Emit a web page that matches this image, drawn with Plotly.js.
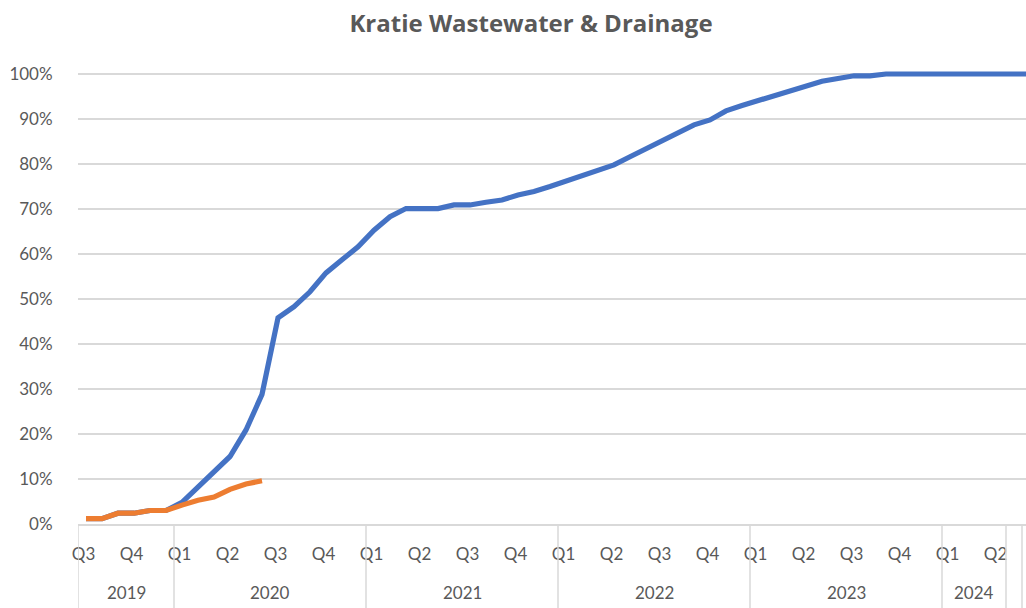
<!DOCTYPE html>
<html>
<head>
<meta charset="utf-8">
<script src="https://cdn.plot.ly/plotly-3.0.1.min.js"></script>
<style>html,body{margin:0;padding:0;background:#fff;}#chart{width:1026px;height:608px;}</style>
</head>
<body>
<div id="chart"></div>
<script>
// Year groups (number of monthly categories in each group)
const yearLabels = ['2019', '2020', '2021', '2022', '2023', '2024', '', ''];
const monthsInYear = [6, 12, 12, 12, 12, 4, 1, 1];
// Quarter labels, one every 3 monthly categories starting at the first category
const quarterLabels = ['Q3', 'Q4',
  'Q1', 'Q2', 'Q3', 'Q4',
  'Q1', 'Q2', 'Q3', 'Q4',
  'Q1', 'Q2', 'Q3', 'Q4',
  'Q1', 'Q2', 'Q3', 'Q4',
  'Q1', 'Q2'];
// Series values (percent), one per monthly category
const seriesBlue = [1.2, 1.2, 2.4, 2.4, 3.0, 3.0, 4.8, 8.2, 11.5, 15.0, 20.9, 28.8,
  45.8, 48.3, 51.6, 55.8, 58.7, 61.6, 65.3, 68.3, 70.1, 70.1, 70.1, 70.9,
  70.9, 71.5, 72.0, 73.1, 73.9, 75.0, 76.2, 77.4, 78.6, 79.8, 81.6, 83.4,
  85.1, 86.9, 88.7, 89.8, 91.8, 93.0, 94.1, 95.2, 96.3, 97.2, 98.4, 99.0,
  99.6, 99.6, 100, 100, 100, 100, 100, 100, 100, 100, 100, 100];
const seriesOrange = [1.2, 1.2, 2.4, 2.4, 3.0, 3.0, 4.2, 5.3, 6.0, 7.7, 8.9, 9.6];

const gridColor = '#d9d9d9';
const textColor = '#595959';
const fontFam = 'Lato, Carlito, "Liberation Sans", sans-serif';
const titleFam = '"Open Sans", Lato, sans-serif';

const xIdx = (arr) => arr.map((_, i) => i);

const traces = [
  {x: xIdx(seriesBlue), y: seriesBlue.map(v => v / 100), type: 'scatter', mode: 'lines',
   line: {color: '#4472C4', width: 5.2}, name: 'Planned', hoverinfo: 'skip'},
  {x: xIdx(seriesOrange), y: seriesOrange.map(v => v / 100), type: 'scatter', mode: 'lines',
   line: {color: '#ED7D31', width: 5.2}, name: 'Actual', hoverinfo: 'skip'}
];

const plotH = 459; // 608 - top - bottom margins
const bottomPx = 84;

// Group boundaries and year label positions
const shapes = [];
const annotations = [];
let start = -0.5;
shapes.push({type: 'line', xref: 'x', yref: 'paper', x0: start, x1: start, y0: 0, y1: -bottomPx / plotH,
  line: {color: gridColor, width: 1.5}});
yearLabels.forEach((lab, k) => {
  const end = start + monthsInYear[k];
  shapes.push({type: 'line', xref: 'x', yref: 'paper', x0: end, x1: end, y0: 0, y1: -bottomPx / plotH,
    line: {color: gridColor, width: 1.5}});
  if (lab) {
    annotations.push({text: lab, xref: 'x', yref: 'paper', x: (start + end) / 2, y: -68 / plotH,
      yanchor: 'middle', xanchor: 'center', showarrow: false,
      font: {family: fontFam, size: 17, color: textColor}});
  }
  start = end;
});

const quarterTickVals = quarterLabels.map((_, i) => i * 3 - 0.15);

const layout = {
  width: 1026, height: 608,
  margin: {l: 78, r: 0, t: 65, b: bottomPx, pad: 0},
  paper_bgcolor: '#ffffff', plot_bgcolor: '#ffffff',
  showlegend: false,
  title: {text: '<b>Kratie Wastewater &amp; Drainage</b>', x: 531 / 1026, xref: 'container', xanchor: 'center',
    y: 1 - 24 / 608, yref: 'container', yanchor: 'middle',
    font: {family: titleFam, size: 24, color: textColor}},
  xaxis: {range: [-0.5, 58.75], showgrid: false, zeroline: false, showline: true,
    linecolor: gridColor, linewidth: 1.5,
    tickmode: 'array', tickvals: quarterTickVals, ticktext: quarterLabels,
    ticks: 'outside', ticklen: 14, tickcolor: 'rgba(0,0,0,0)',
    tickfont: {family: fontFam, size: 17, color: textColor}, fixedrange: true},
  yaxis: {range: [0, 1.02], tickmode: 'array', tickvals: [0, 0.1, 0.2, 0.3, 0.4, 0.5, 0.6, 0.7, 0.8, 0.9, 1.0],
    tickformat: '.0%', showgrid: true, gridcolor: gridColor, gridwidth: 1.5, zeroline: false,
    showline: false, ticks: 'outside', ticklen: 21, tickcolor: 'rgba(0,0,0,0)',
    tickfont: {family: fontFam, size: 17, color: textColor}, fixedrange: true},
  shapes: shapes,
  annotations: annotations
};

Plotly.newPlot('chart', traces, layout, {staticPlot: true, displayModeBar: false});
</script>
</body>
</html>
